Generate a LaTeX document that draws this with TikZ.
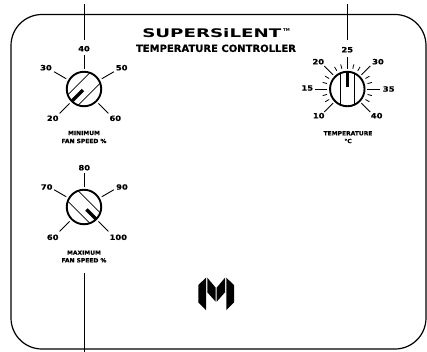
\documentclass[tikz,border=0pt]{standalone}
\usepackage{fontspec}
\setmainfont{DejaVu Sans}[BoldFont=DejaVu Sans Bold]
\usetikzlibrary{calc}
\newfontface\wide{DejaVu Sans Bold}[FakeStretch=1.5]
\newfontface\labface{DejaVu Sans Bold}[FakeStretch=1.15,FakeBold=0.4]
\newfontface\capface{DejaVu Sans Bold}[FakeStretch=1.05,FakeBold=0.3]
\tikzset{
 x=1bp,y=-1bp,
 frameline/.style={line width=1.2bp,rounded corners=31bp},
 leader/.style={line width=1bp},
 knobring/.style={circle,draw,line width=1.9bp,minimum size=34.5bp,inner sep=0pt},
 majortick/.style={line width=.9bp},
 minortick/.style={line width=.8bp},
 stripe/.style={line width=.8bp},
 pointer/.style={line width=3.4bp},
 lab/.style={font=\labface\fontsize{7.3}{7.3}\selectfont,inner sep=0pt},
 capt/.style={font=\capface\fontsize{5.7}{6}\selectfont,inner sep=0pt},
 logo/.style={fill=black,draw=none},
}
\begin{document}
\begin{tikzpicture}
\useasboundingbox (0,0) rectangle (427,352);
\fill[white] (0,0) rectangle (427,352);
\coordinate (fa) at (11,14.5); \coordinate (fb) at (426,14.5); \coordinate (fc) at (426,349); \coordinate (fd) at (11,349);
\draw[frameline] (fa) -- (fb) -- (fc) -- (fd) -- cycle;
\node[anchor=center,inner sep=0pt] (title) at (211.8,33) {\resizebox{139bp}{9bp}{\wide SUPERSiLENT}};
\node[font=\bfseries\fontsize{4}{4}\selectfont,inner sep=0pt] (tm) at (286.5,30) {TM};
\node[inner sep=0pt] (sub) at (216,48.3) {\resizebox{160bp}{7.4bp}{\labface TEMPERATURE CONTROLLER}};
% knobs
\node[knobring] (k1) at (84,89) {};
\node[knobring] (k2) at (84,207) {};
\node[knobring] (k3) at (347.3,89) {};
% leaders
\coordinate (l1) at (84,4); \coordinate (l1e) at (84,40);
\coordinate (l2) at (84,273); \coordinate (l2e) at (84,352);
\coordinate (l3) at (347.3,4); \coordinate (l3e) at (347.3,40);
\draw[leader] (l1) -- (l1e);
\draw[leader] (l2) -- (l2e);
\draw[leader] (l3) -- (l3e);
% knob 1 and 2 ticks
\foreach \k in {k1,k2}{
 \foreach \a in {135,-150,-90,-30,45}{
  \draw[majortick] ($(\k)+(\a:20.5)$) -- ($(\k)+(\a:34.5)$);
 }
}
% knob 3 ticks
\foreach \a in {135,180,225,270,315,360,405}{
  \draw[majortick] ($(k3)+(\a:20)$) -- ($(k3)+(\a:32.5)$);
}
\foreach \a in {150,165,195,210,240,255,285,300,330,345,375,390}{
  \draw[minortick] ($(k3)+(\a:21)$) -- ($(k3)+(\a:25.5)$);
}
% stripes and pointers
\foreach \s in {-7.3,7.3}{
 \pgfmathsetmacro\h{sqrt(17.2*17.2-\s*\s)}
 \draw[stripe] ($(k1)+(45:\s)+(135:\h)$) -- ($(k1)+(45:\s)+(-45:\h)$);
 \draw[stripe] ($(k2)+(135:\s)+(45:\h)$) -- ($(k2)+(135:\s)+(-135:\h)$);
 \draw[stripe] ($(k3)+(\s,-\h)$) -- ($(k3)+(\s,\h)$);
}
\draw[pointer] ($(k1)+(135:1.5)$) -- ($(k1)+(135:16.5)$);
\draw[pointer] ($(k2)+(45:3.5)$) -- ($(k2)+(45:17)$);
\draw[pointer] ($(k3)+(0,-17)$) -- ($(k3)+(0,-2)$);
% knob 1 labels
\node[lab] (a40) at (84,48.7) {40};
\node[lab] (a30) at (46,67.7) {30};
\node[lab] (a50) at (121.7,67.7) {50};
\node[lab] (a20) at (52.7,118.3) {20};
\node[lab] (a60) at (115.3,118.3) {60};
\node[capt] (c1a) at (84,133) {MINIMUM};
\node[capt] (c1b) at (84,141) {FAN SPEED \%};
% knob 2 labels
\node[lab] (b80) at (84.3,167.7) {80};
\node[lab] (b70) at (46.7,187) {70};
\node[lab] (b90) at (122,187) {90};
\node[lab] (b60) at (52.7,237.3) {60};
\node[lab] (b100) at (118.3,237.3) {100};
\node[capt] (c2a) at (84,252.7) {MAXIMUM};
\node[capt] (c2b) at (84,260.3) {FAN SPEED \%};
% knob 3 labels
\node[lab] (d25) at (347.3,49.7) {25};
\node[lab] (d20) at (318.3,61.7) {20};
\node[lab] (d30) at (378,61.7) {30};
\node[lab] (d15) at (307.3,88) {15};
\node[lab] (d35) at (388.7,89) {35};
\node[lab] (d10) at (318.7,115.7) {10};
\node[lab] (d40) at (376.7,115.7) {40};
\node[capt] (c3a) at (348,133.3) {TEMPERATURE};
\node[capt] (c3b) at (348,141) {°C};
% logo
\fill[logo] (198.3,285) -- (206,277.7) -- (206,310) -- (198.3,302.3) -- cycle;
\fill[logo] (207.3,277.7) -- (215.7,287.7) -- (215.7,301.7) -- (207.3,292.3) -- cycle;
\fill[logo] (216.7,287.7) -- (225,277.7) -- (225,292.3) -- (216.7,301.7) -- cycle;
\fill[logo] (226.3,277.7) -- (234,285) -- (234,302.3) -- (226.3,310) -- cycle;
\end{tikzpicture}
\end{document}
